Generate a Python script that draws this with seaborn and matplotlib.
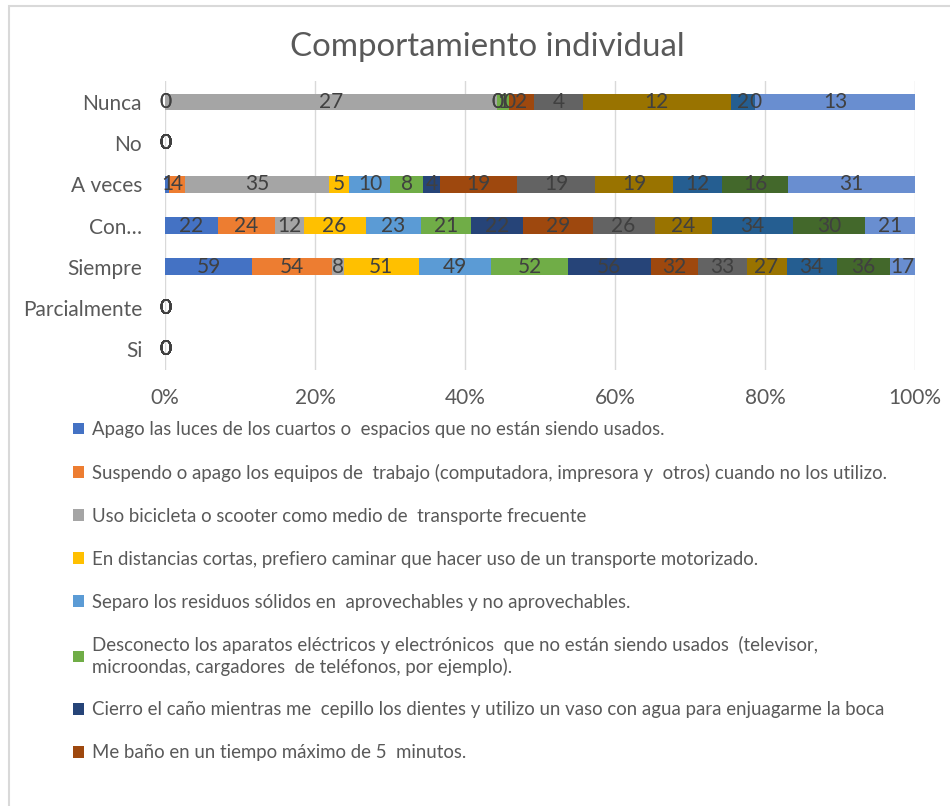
import numpy as np
import pandas as pd
import seaborn as sns
import matplotlib.pyplot as plt
from matplotlib.patches import Patch, Rectangle

# Categories (top to bottom) and one list of counts per answer category
categorias = ["Nunca", "No", "A veces", "Con…", "Siempre", "Parcialmente", "Si"]

nunca = [0, 0, 27, 0, 0, 1, 0, 2, 4, 12, 2, 0, 13]
no = [0] * 13
a_veces = [1, 4, 35, 5, 10, 8, 4, 19, 19, 19, 12, 16, 31]
con = [22, 24, 12, 26, 23, 21, 22, 29, 26, 24, 34, 30, 21]
siempre = [59, 54, 8, 51, 49, 52, 56, 32, 33, 27, 34, 36, 17]
parcialmente = [0] * 13
si = [0] * 13

series = [
    "Apago las luces de los cuartos o  espacios que no están siendo usados.",
    "Suspendo o apago los equipos de  trabajo (computadora, impresora y  otros) cuando no los utilizo.",
    "Uso bicicleta o scooter como medio de  transporte frecuente",
    "En distancias cortas, prefiero caminar que hacer uso de un transporte motorizado.",
    "Separo los residuos sólidos en  aprovechables y no aprovechables.",
    "Desconecto los aparatos eléctricos y electrónicos  que no están siendo usados  (televisor,\n"
    "microondas, cargadores  de teléfonos, por ejemplo).",
    "Cierro el caño mientras me  cepillo los dientes y utilizo un vaso con agua para enjuagarme la boca",
    "Me baño en un tiempo máximo de 5  minutos.",
    "Serie 9", "Serie 10", "Serie 11", "Serie 12", "Serie 13",
]

colores = ["#4472C4", "#ED7D31", "#A5A5A5", "#FFC000", "#5B9BD5", "#70AD47",
           "#264478", "#9E480E", "#636363", "#997300", "#255E91", "#43682B",
           "#698ED0"]

filas = [nunca, no, a_veces, con, siempre, parcialmente, si]
rows = []
for cat, vals in zip(categorias, filas):
    total = sum(vals)
    acum = 0.0
    for i, v in enumerate(vals):
        pct = v / total if total else 0.0
        rows.append([cat, i, v, acum, acum + pct])
        acum += pct
df = pd.DataFrame(rows, columns=["categoria", "serie", "valor", "inicio", "fin"])

plt.rcParams["font.family"] = ["Lato", "DejaVu Sans"]
fig = plt.figure(figsize=(9.5, 8.06), dpi=100)
ax = fig.add_axes([165 / 950, 1 - 369.6 / 806, 750 / 950, 288.2 / 806])

# Stacked bars: draw cumulative widths from last series to first
for i in reversed(range(len(colores))):
    sub = df[df["serie"] == i]
    sns.barplot(data=sub, x="fin", y="categoria", order=categorias, orient="h",
                color=colores[i], saturation=1, width=0.4, errorbar=None,
                linewidth=0, ax=ax, zorder=3)

# Value labels centred on each segment
pos = {c: k for k, c in enumerate(categorias)}
for _, r in df.iterrows():
    ax.text((r["inicio"] + r["fin"]) / 2, pos[r["categoria"]], str(int(r["valor"])),
            ha="center", va="center", fontsize=15, color="#404040", zorder=4)

ax.set_xlim(0, 1)
ax.set_xticks(np.arange(0, 1.01, 0.2))
ax.set_xticklabels([f"{int(t * 100)}%" for t in np.arange(0, 1.01, 0.2)])
ax.grid(axis="x", color="#D9D9D9", linewidth=1, zorder=0)
ax.set_axisbelow(True)
for s in ax.spines.values():
    s.set_visible(False)
ax.tick_params(axis="both", length=0, labelsize=15, labelcolor="#595959")
ax.tick_params(axis="x", pad=13)
ax.tick_params(axis="y", pad=16.5)
ax.set_xlabel("")
ax.set_ylabel("")

fig.text(487 / 950, 1 - 47 / 806, "Comportamiento individual", ha="center",
         va="center", fontsize=23.8, color="#595959")

handles = [Patch(facecolor=colores[i], edgecolor="none") for i in range(8)]
fig.legend(handles, series[:8], loc="upper left",
           bbox_to_anchor=(73 / 950, 1 - 421 / 806), frameon=False,
           fontsize=13.4, labelcolor="#595959", handlelength=0.6,
           handleheight=0.6, handletextpad=0.4, labelspacing=1.39,
           borderpad=0, borderaxespad=0)

fig.patches.append(Rectangle((8.5 / 950, -0.1), 1.2, 1.1 - 6 / 806,
                             transform=fig.transFigure, fill=False,
                             edgecolor="#D9D9D9", linewidth=1.5))

fig.savefig("out.png", dpi=100)
